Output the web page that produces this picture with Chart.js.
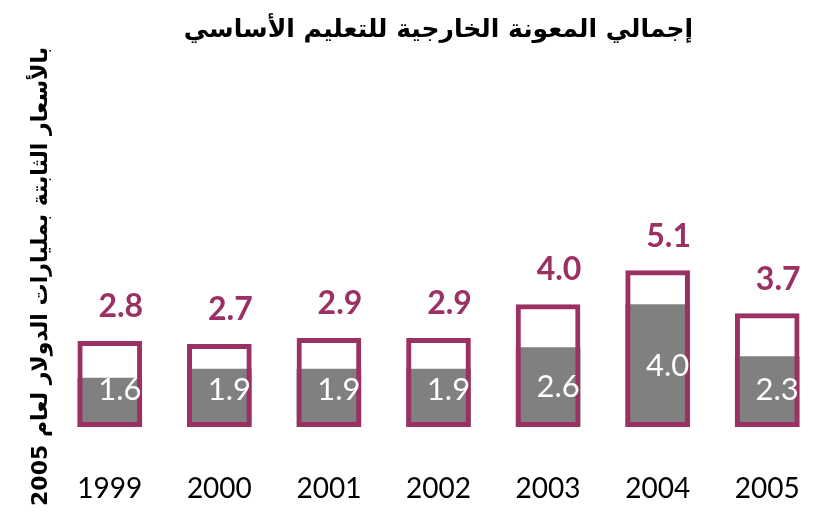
<!DOCTYPE html>
<html lang="ar">
<head>
<meta charset="utf-8">
<script src="https://cdn.jsdelivr.net/npm/chart.js@4.4.1/dist/chart.umd.min.js"></script>
<style>
  html, body { margin: 0; padding: 0; background: #ffffff; }
  #caja { width: 833px; height: 512px; }
</style>
</head>
<body>
<div id="caja"><canvas id="grafico"></canvas></div>
<script>
// Datos del gráfico (miles de millones de USD constantes de 2005)
const years = ['1999', '2000', '2001', '2002', '2003', '2004', '2005'];
const totalAid = [2.8, 2.7, 2.9, 2.9, 4.0, 5.1, 3.7];
const basicEdu = [1.6, 1.9, 1.9, 1.9, 2.6, 4.0, 2.3];

const titulo = 'إجمالي المعونة الخارجية للتعليم الأساسي';
const tituloEje = 'بالأسعار الثابتة بمليارات الدولار لعام 2005';

const PURPURA = '#9b3163';
const GRIS = '#808080';

// Etiquetas: total encima de cada barra, parte gris dentro
const etiquetasBarras = {
    id: 'etiquetasBarras',
    afterDatasetsDraw(chart) {
        const ctx = chart.ctx;
        const metaTotal = chart.getDatasetMeta(0);
        const metaGris = chart.getDatasetMeta(1);
        ctx.save();
        ctx.textAlign = 'center';
        ctx.textBaseline = 'middle';

        ctx.font = 'bold 32px Lato';
        ctx.fillStyle = PURPURA;
        metaTotal.data.forEach((bar, i) => {
            ctx.fillText(totalAid[i].toFixed(1), bar.x + 11, bar.y - 34);
        });

        ctx.font = '31px Lato';
        ctx.fillStyle = '#ffffff';
        metaGris.data.forEach((bar, i) => {
            const yMid = Math.min((bar.y + bar.base) / 2, bar.base - 37);
            ctx.fillText(basicEdu[i].toFixed(1), bar.x + 10, yMid);
        });
        ctx.restore();
    }
};

new Chart(document.getElementById('grafico').getContext('2d'), {
    type: 'bar',
    data: {
        labels: years,
        datasets: [
            {
                label: 'total',
                data: totalAid,
                backgroundColor: 'rgba(0,0,0,0)',
                borderColor: PURPURA,
                borderWidth: 5,
                borderSkipped: false,
                grouped: false,
                order: 0
            },
            {
                label: 'basic',
                data: basicEdu,
                backgroundColor: GRIS,
                borderWidth: 0,
                grouped: false,
                order: 1
            }
        ]
    },
    options: {
        responsive: true,
        maintainAspectRatio: false,
        animation: false,
        devicePixelRatio: 1,
        layout: { padding: { left: 10, right: 11, top: 0, bottom: 9 } },
        datasets: { bar: { barPercentage: 0.59, categoryPercentage: 1 } },
        scales: {
            x: {
                grid: { display: false, drawTicks: false },
                border: { display: false },
                ticks: {
                    color: '#000000',
                    padding: 45,
                    maxRotation: 0,
                    font: { family: 'Lato', size: 28 }
                },
                afterFit(scale) {
                    scale.height = 76;
                    scale.paddingLeft = 0;
                    scale.paddingRight = 0;
                }
            },
            y: {
                min: 0,
                max: 9.8,
                grid: { display: false, drawTicks: false },
                border: { display: false },
                ticks: { display: false },
                title: {
                    display: true,
                    text: tituloEje,
                    color: '#000000',
                    padding: { top: 18, bottom: 1 },
                    font: { family: 'DejaVu Sans', size: 22, weight: 'bold' }
                },
                afterFit(scale) {
                    scale.width = 45;
                }
            }
        },
        plugins: {
            legend: { display: false },
            tooltip: { enabled: false },
            title: {
                display: true,
                fullSize: false,
                text: titulo,
                color: '#000000',
                padding: { top: 15, bottom: 81 },
                font: { family: 'DejaVu Sans', size: 25, weight: 'bold' }
            }
        }
    },
    plugins: [etiquetasBarras]
});
</script>
</body>
</html>
